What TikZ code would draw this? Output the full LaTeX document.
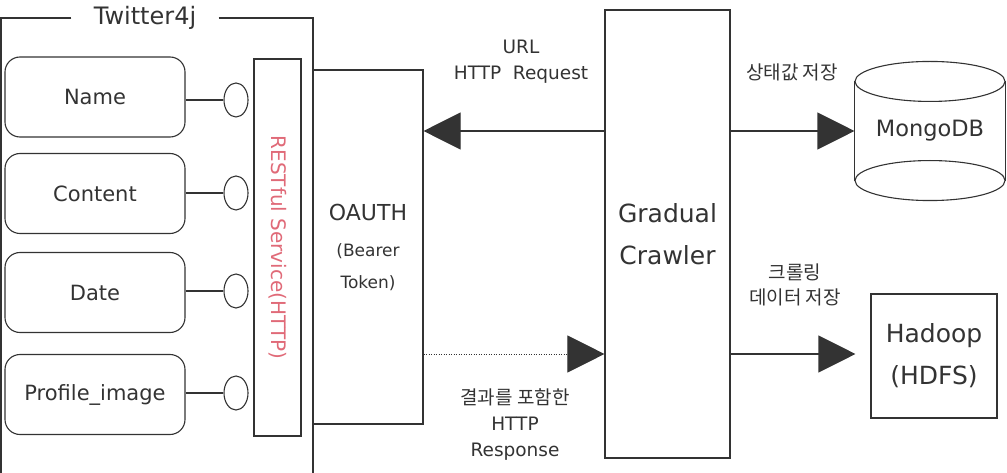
\documentclass[tikz,border=0pt]{standalone}
\usepackage{fontspec}
\setmainfont{DejaVu Sans}
\newfontfamily\krfont{Noto Sans CJK KR}
\usepackage{tikz}
\usetikzlibrary{arrows.meta, shapes.geometric}
\definecolor{linegray}{HTML}{333333}
\definecolor{restred}{HTML}{E06A78}

\begin{document}
\begin{tikzpicture}[x=1pt, y=-1pt, line width=1.1pt, color=linegray,
        field/.style={draw, rounded corners=15pt, minimum width=180pt, minimum height=80pt, font=\fontsize{21}{24}\selectfont},
        port/.style={draw, ellipse, minimum width=24pt, minimum height=34pt, inner sep=0pt},
        block/.style={draw, rectangle, align=center, inner sep=0pt},
        lbl/.style={align=center, font=\fontsize{18.5}{26}\selectfont},
        bigtip/.style={-{Triangle[length=37pt, width=37pt]}}]
        \useasboundingbox (0, 0) rectangle (1007, 473);

        % Twitter4j frame
        \node[font=\fontsize{24}{24}\selectfont, inner xsep=22pt, inner ysep=0pt] at (145, 18) (twitter) {Twitter4j};
        \draw (twitter.west) -- (1, 18) -- (1, 473);
        \draw (twitter.east) -- (313, 18) -- (313, 473);

        \node[field] at (95, 97)    (name) {Name};
        \node[field] at (95, 193.5) (content) {Content};
        \node[field] at (95, 292.5) (date) {Date};
        \node[field] at (95, 394.5) (profile) {Profile\_image};
        \node[port] at (236, 100) (namep) {};
        \node[port] at (236, 193) (contentp) {};
        \node[port] at (236, 291) (datep) {};
        \node[port] at (236, 393) (profilep) {};
        \draw (name.east |- namep) -- (namep);
        \draw (content.east |- contentp) -- (contentp);
        \draw (date.east |- datep) -- (datep);
        \draw (profile.east |- profilep) -- (profilep);

        \node[block, rotate=-90, minimum width=377pt, minimum height=47pt, text=restred, font=\fontsize{20}{24}\selectfont] at (277.5, 247.5) (rest) {RESTful Service(HTTP)};

        \node[block, minimum width=110pt, minimum height=354pt, font=\fontsize{17}{32}\selectfont] at (368, 247) (oauth) {{\fontsize{22}{24}\selectfont OAUTH}\\[4pt](Bearer\\Token)};
        \node[block, minimum width=125pt, minimum height=448pt, font=\fontsize{25}{42}\selectfont] at (667.5, 234) (crawler) {Gradual\\Crawler};
        \node[block, minimum width=126pt, minimum height=124pt, font=\fontsize{25}{42}\selectfont] at (934, 356) (hadoop) {Hadoop\\(HDFS)};

        % MongoDB cylinder
        \node[minimum width=150pt, minimum height=138pt, font=\fontsize{22.5}{24}\selectfont] at (930, 131) (mongo) {MongoDB};
        \draw ([yshift=-20pt]mongo.north) ellipse [x radius=75pt, y radius=20pt];
        \draw ([yshift=20pt]mongo.south) ellipse [x radius=75pt, y radius=20pt];
        \draw ([yshift=-20pt]mongo.north west) -- ([yshift=20pt]mongo.south west);
        \draw ([yshift=-20pt]mongo.north east) -- ([yshift=20pt]mongo.south east);

        \draw[bigtip] (crawler.west |- mongo) -- (oauth.east |- mongo);
        \draw[bigtip, dash pattern=on 1pt off 1.5pt, line width=0.9pt] (oauth.east |- 0, 354) -- (crawler.west |- 0, 354);
        \draw[bigtip] (crawler.east |- mongo) -- (mongo.west);
        \draw[bigtip, shorten >=15pt] (crawler.east |- 0, 354) -- (hadoop.west |- 0, 354);

        \node[lbl] at (521, 62)  (request) {URL\\HTTP~~Request};
        \node[lbl] at (515, 424) (response) {{\krfont\fontsize{19}{26}\selectfont 결과를~포함한}\\HTTP\\Response};
        \node[lbl, font=\krfont\fontsize{19}{25}\selectfont] at (792, 72)  (statelbl) {상태값~저장};
        \node[lbl, font=\krfont\fontsize{19}{25}\selectfont] at (795, 285) (datalbl) {크롤링\\데이터~저장};
\end{tikzpicture}
\end{document}
